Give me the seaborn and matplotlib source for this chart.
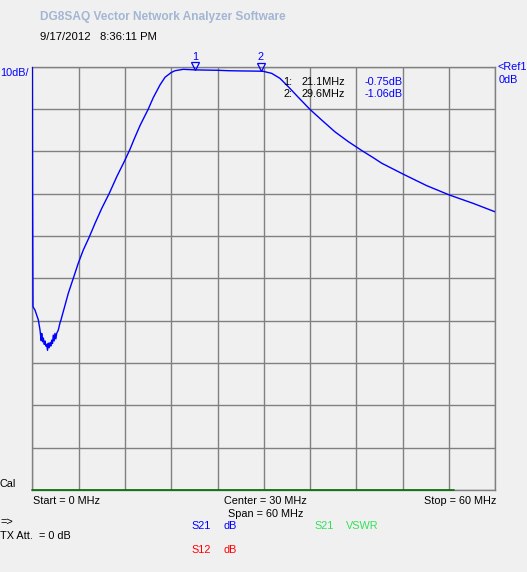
import matplotlib
matplotlib.use("Agg")
import matplotlib.pyplot as plt
import matplotlib.transforms as mtransforms
import seaborn as sns

# S21 trace (MHz, dB)
freq_mhz = [0.0, 0.03, 0.09, 0.35, 0.78, 1.0, 1.15, 1.22, 1.33, 1.43, 1.55, 1.65,
            1.76, 1.87, 1.97, 2.07, 2.18, 2.29, 2.4, 2.51, 2.62, 2.72, 2.83, 2.94,
            3.05, 3.16, 3.37, 3.59, 3.72, 4.67, 5.31, 5.96, 6.61, 7.39, 8.13, 8.99,
            9.98, 10.94, 11.92, 12.66, 13.2, 13.96, 15.03, 15.68, 16.55, 17.2,
            17.98, 18.49, 19.57, 20.3, 21.1, 22.5, 24.0, 25.5, 27.0, 28.5, 29.6,
            29.94, 31.02, 32.1, 33.18, 34.47, 35.99, 37.5, 39.23, 40.95, 42.69,
            44.19, 45.28, 48.08, 51.11, 54.04, 57.15, 60.0]
s21_db = [0.0, -28.5, -56.7, -57.5, -59.8, -62.2, -64.7, -63.0, -65.0, -64.1, -65.6,
          -64.8, -66.0, -65.6, -67.0, -65.3, -66.4, -65.2, -66.0, -64.6, -65.4,
          -63.4, -64.8, -63.0, -64.3, -63.0, -62.2, -60.5, -59.8, -53.5, -50.0,
          -46.4, -43.3, -40.2, -37.0, -33.5, -29.9, -26.0, -22.4, -19.5, -17.1,
          -13.9, -10.0, -7.3, -4.3, -2.5, -1.4, -0.95, -0.62, -0.68, -0.75, -0.8,
          -0.85, -0.95, -1.0, -1.03, -1.06, -1.1, -1.57, -2.76, -4.74, -7.23,
          -10.1, -12.6, -15.4, -17.7, -19.8, -21.5, -22.8, -25.4, -28.1, -30.3,
          -32.3, -34.3]

marker_ids = ["1", "2"]
marker_freq = [21.1, 29.6]
marker_db = [-0.75, -1.06]

W, H = 527, 572
BG = "#f0f0f0"
GRID = "#808080"
BLUE = "#0000ff"
GREEN = "#33e05a"
RED = "#ff0000"
FONT = ["Liberation Sans", "DejaVu Sans"]

sns.set_style("white")
plt.rcParams["font.family"] = FONT

fig = plt.figure(figsize=(W / 100, H / 100), dpi=100, facecolor=BG)
# grid box: x 32.3..495.3, y 66.7..490 (pixels from top)
ax = fig.add_axes([32.3 / W, (H - 490) / H, 463 / W, 423.3 / H])
ax.set_facecolor(BG)

sns.lineplot(x=freq_mhz, y=s21_db, ax=ax, color=BLUE, lw=1.0,
             estimator=None, sort=False, zorder=3)

ax.set_xlim(0, 60)
ax.set_ylim(-100, 0)
ax.set_xticks(range(0, 61, 6))
ax.set_yticks(range(-100, 1, 10))
ax.grid(True, color=GRID, lw=1.0)
ax.tick_params(length=0, labelbottom=False, labelleft=False)
ax.set_xlabel("")
ax.set_ylabel("")
for s in ax.spines.values():
    s.set_color(GRID)
    s.set_linewidth(1.0)

# green sweep bar along the bottom edge
ax.plot([0, 54.6], [-100, -100], color="#007000", lw=1.2, clip_on=False, zorder=4)

# marker triangles sitting on the trace
tri = mtransforms.offset_copy(ax.transData, fig=fig, x=0, y=3, units="points")
for mid, mf, md in zip(marker_ids, marker_freq, marker_db):
    ax.plot([mf], [md], marker="v", ms=6, mfc="none", mec=BLUE, mew=0.9,
            transform=tri, clip_on=False, zorder=5)


def txt(x, y, s, color="black", size=7.8, **kw):
    fig.text(x / W, 1 - y / H, s, color=color, fontsize=size, va="baseline", **kw)


txt(40, 20, "DG8SAQ Vector Network Analyzer Software", color="#a3b6d3",
    size=8.6, weight="bold")
txt(40, 40, "9/17/2012   8:36:11 PM", size=8.1)
txt(0, 76, "10dB/", color=BLUE)
txt(497, 70, "<Ref1", color=BLUE)
txt(499, 82.7, "0dB", color=BLUE)

for mid, mf in zip(marker_ids, marker_freq):
    x_px = 32.3 + mf / 60 * 463
    txt(x_px, 60, mid, color=BLUE, ha="center")

txt(283.3, 85, "1:")
txt(301.7, 85, "21.1MHz")
txt(283.3, 97.3, "2:")
txt(301.7, 97.3, "29.6MHz")
txt(402.3, 85, "-0.75dB", color=BLUE, ha="right")
txt(402.3, 97.3, "-1.06dB", color=BLUE, ha="right")

txt(0, 486.7, "Cal")
txt(32.6, 504, "Start = 0 MHz")
txt(224.5, 504, "Center = 30 MHz")
txt(227.9, 516.7, "Span = 60 MHz")
txt(496.5, 504, "Stop = 60 MHz", ha="right")
txt(0, 525, "=>")
txt(0, 538.7, "TX Att.")
txt(39.3, 538.7, "= 0 dB")

txt(191.6, 529.3, "S21", color=BLUE)
txt(223.5, 529.3, "dB", color=BLUE)
txt(314.3, 529.3, "S21", color=GREEN)
txt(346.2, 529.3, "VSWR", color=GREEN)
txt(191.6, 552.7, "S12", color=RED)
txt(223.5, 552.7, "dB", color=RED)

fig.savefig("out.png", dpi=100, facecolor=BG)
